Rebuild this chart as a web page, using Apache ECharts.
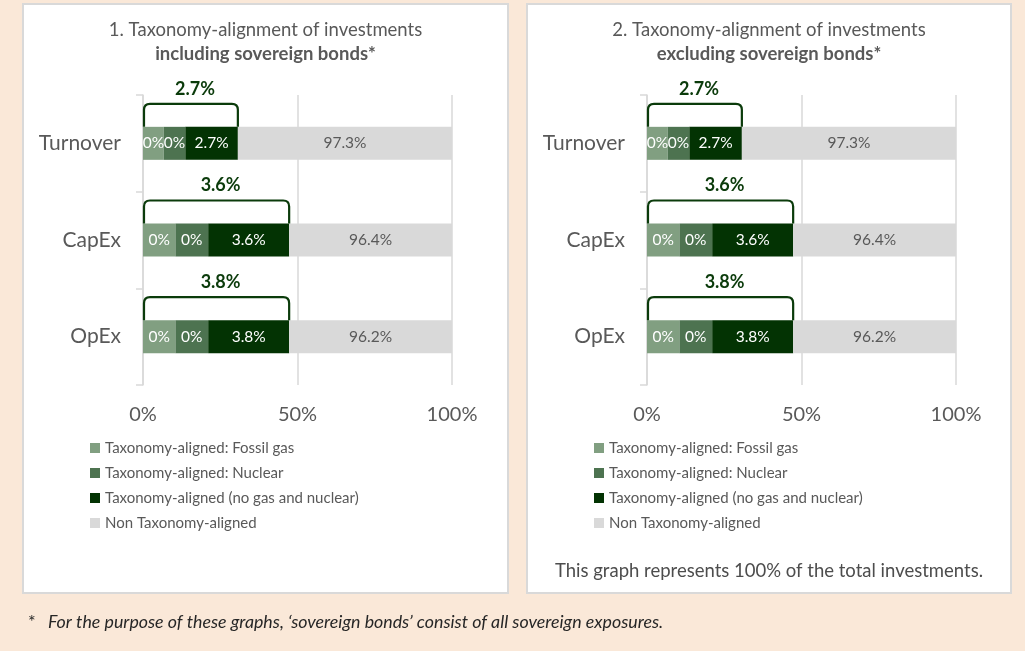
<!DOCTYPE html>
<html>
<head>
<meta charset="utf-8">
<script src="https://cdn.jsdelivr.net/npm/echarts@6/dist/echarts.min.js"></script>
<style>
  html, body { margin: 0; padding: 0; background: #fae8d8; }
  #chart { width: 1025px; height: 651px; }
</style>
</head>
<body>
<div id="chart"></div>
<script>
// categories and legend names
const categories = ['Turnover', 'CapEx', 'OpEx'];
const seriesNames = [
    'Taxonomy-aligned: Fossil gas',
    'Taxonomy-aligned: Nuclear',
    'Taxonomy-aligned (no gas and nuclear)',
    'Non Taxonomy-aligned'
];

// reported shares (%), shown as labels
const fossilGas = [0, 0, 0];
const nuclear = [0, 0, 0];
const aligned = [2.7, 3.6, 3.8];
const nonAligned = [97.3, 96.4, 96.2];

// bar lengths as drawn in the picture (the template is not to scale)
const fossilGasBar = [6.7, 10.5, 10.5];
const nuclearBar = [7.0, 10.6, 10.6];
const alignedBar = [17.0, 26.2, 26.2];
const nonAlignedBar = [69.3, 52.7, 52.7];

const xTicks = [0, 50, 100];

const panelTitles = [
    ['1. Taxonomy-alignment of investments', 'including sovereign bonds*'],
    ['2. Taxonomy-alignment of investments', 'excluding sovereign bonds*']
];

document.addEventListener('DOMContentLoaded', () => {
    const chart = echarts.init(document.getElementById('chart'));

    const FONT = 'Lato, "Open Sans", sans-serif';
    const GREY = '#595959';
    const LINE = '#d9d9d9';
    const DARK = '#0b3b0b';
    const colors = ['#819f81', '#4d7350', '#033303', '#d9d9d9'];
    const bars = [fossilGasBar, nuclearBar, alignedBar, nonAlignedBar];
    const shares = [fossilGas, nuclear, aligned, nonAligned];

    // panel frames
    const panels = [
        { x: 23, w: 485, gridLeft: 143, legendLeft: 90 },
        { x: 527, w: 484, gridLeft: 647, legendLeft: 594 }
    ];

    const grids = [], xAxes = [], yAxes = [], series = [], legends = [], graphics = [];

    panels.forEach((p, k) => {
        const cx = p.x + p.w / 2;
        graphics.push({
            type: 'rect', z: -10,
            shape: { x: p.x, y: 4, width: p.w, height: 589 },
            style: { fill: '#ffffff', stroke: LINE, lineWidth: 2 }
        });
        graphics.push({
            type: 'text', x: cx, y: 30,
            style: { text: panelTitles[k][0], align: 'center', verticalAlign: 'middle',
                fontSize: 18.5, fontFamily: FONT, fill: GREY }
        });
        graphics.push({
            type: 'text', x: cx, y: 54,
            style: { text: panelTitles[k][1], align: 'center', verticalAlign: 'middle',
                fontSize: 18.5, fontWeight: 'bold', fontFamily: FONT, fill: GREY }
        });

        grids.push({ left: p.gridLeft, top: 95, width: 309, height: 290 });
        xAxes.push({
            gridIndex: k, type: 'value',
            min: xTicks[0], max: xTicks[xTicks.length - 1], interval: xTicks[1] - xTicks[0],
            axisLine: { show: false }, axisTick: { show: false },
            splitLine: { show: true, lineStyle: { color: LINE, width: 1.5 } },
            axisLabel: { formatter: '{value}%', fontSize: 20, fontFamily: FONT, color: GREY, margin: 20 }
        });
        yAxes.push({
            gridIndex: k, type: 'category', data: categories, inverse: true,
            axisLine: { show: true, lineStyle: { color: LINE, width: 1.5 } },
            axisTick: { show: true, length: 7, lineStyle: { color: LINE, width: 1.5 } },
            axisLabel: { fontSize: 21, fontFamily: FONT, color: GREY, margin: 22 }
        });

        seriesNames.forEach((name, s) => {
            series.push({
                name, type: 'bar', stack: 'p' + k,
                xAxisIndex: k, yAxisIndex: k,
                barWidth: 33,
                itemStyle: { color: colors[s] },
                label: {
                    show: true, position: 'inside',
                    fontSize: 15.5, fontFamily: FONT,
                    color: s === 3 ? GREY : '#ffffff',
                    formatter: (prm) => shares[s][prm.dataIndex] + '%'
                },
                emphasis: { disabled: true },
                data: bars[s]
            });
        });

        // bracket over the aligned part with the total aligned share
        series.push({
            type: 'custom', xAxisIndex: k, yAxisIndex: k, silent: true, z: 5,
            data: categories.map((c, i) => [fossilGasBar[i] + nuclearBar[i] + alignedBar[i], i, aligned[i]]),
            encode: { x: 0, y: 1 },
            renderItem: (params, api) => {
                const end = api.value(0), cat = api.value(1);
                const p0 = api.coord([0, cat]);
                const p1 = api.coord([end, cat]);
                const x0 = p0[0] + 1, x1 = p1[0];
                const bottom = p0[1] - 16.5, top = bottom - 23, r = 6;
                const d = `M${x0},${bottom} L${x0},${top + r} Q${x0},${top} ${x0 + r},${top} ` +
                    `L${x1 - r},${top} Q${x1},${top} ${x1},${top + r} L${x1},${bottom}`;
                return {
                    type: 'group',
                    children: [{
                        type: 'path',
                        shape: { pathData: d, x: x0, y: top, width: x1 - x0, height: bottom - top, layout: 'cover' },
                        style: { fill: 'none', stroke: DARK, lineWidth: 2.2 }
                    }, {
                        type: 'text',
                        x: (x0 + x1) / 2 + 4, y: top - 15,
                        style: { text: api.value(2) + '%', align: 'center', verticalAlign: 'middle',
                            fontSize: 18, fontWeight: 'bold', fontFamily: FONT, fill: DARK }
                    }]
                };
            }
        });

        legends.push({
            left: p.legendLeft, top: 440, orient: 'vertical', padding: 0,
            itemWidth: 10, itemHeight: 10, itemGap: 9, icon: 'rect',
            selectedMode: false,
            textStyle: { fontSize: 15, fontFamily: FONT, color: GREY, lineHeight: 16 },
            data: seriesNames
        });
    });

    graphics.push({
        type: 'text', x: 769, y: 571,
        style: { text: 'This graph represents 100% of the total investments.', align: 'center',
            verticalAlign: 'middle', fontSize: 18.5, fontFamily: FONT, fill: '#4d4d4d' }
    });
    graphics.push({
        type: 'text', x: 28, y: 622,
        style: { text: '*', verticalAlign: 'middle', fontSize: 18, fontFamily: FONT, fill: '#262626' }
    });
    graphics.push({
        type: 'text', x: 48, y: 622,
        style: { text: 'For the purpose of these graphs, \u2018sovereign bonds\u2019 consist of all sovereign exposures.',
            verticalAlign: 'middle', fontSize: 17.8, fontStyle: 'italic', fontFamily: FONT, fill: '#262626' }
    });

    chart.setOption({
        backgroundColor: '#fae8d8',
        animation: false,
        grid: grids,
        xAxis: xAxes,
        yAxis: yAxes,
        legend: legends,
        graphic: graphics,
        series: series
    });

    window.addEventListener('resize', () => chart.resize());
});
</script>
</body>
</html>
